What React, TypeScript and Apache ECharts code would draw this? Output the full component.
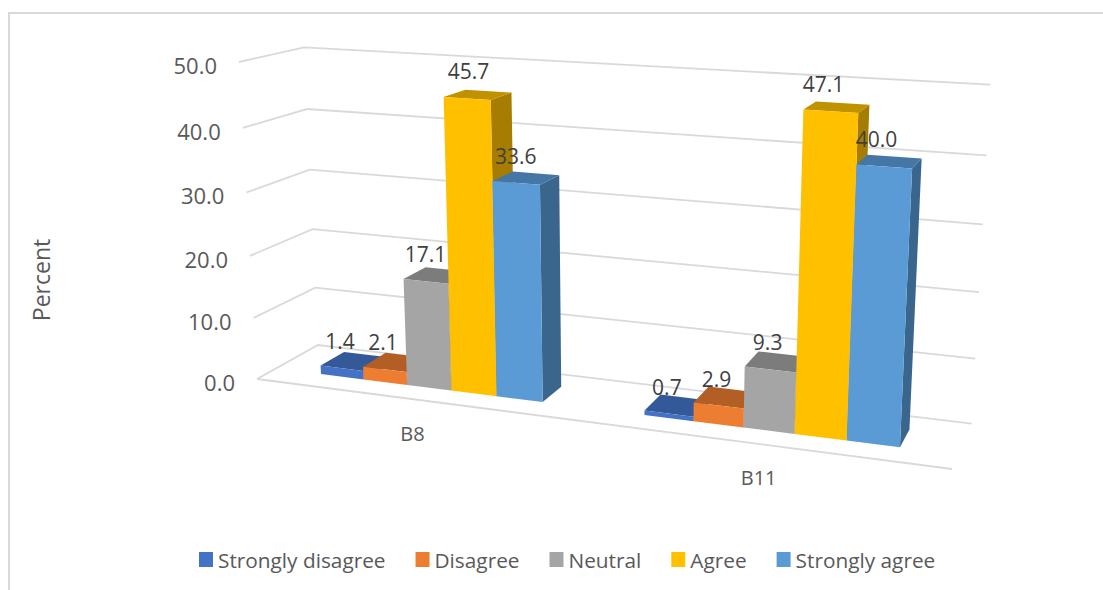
import React, { useEffect, useRef } from "react";
import * as echarts from "echarts";

const categories = ["B8", "B11"];
const stronglyDisagree = [1.4, 0.7];
const disagree = [2.1, 2.9];
const neutral = [17.1, 9.3];
const agree = [45.7, 47.1];
const stronglyAgree = [33.6, 40.0];
const yTicks = [0, 10, 20, 30, 40, 50];

const seriesNames = ["Strongly disagree", "Disagree", "Neutral", "Agree", "Strongly agree"];
const seriesValues = [stronglyDisagree, disagree, neutral, agree, stronglyAgree];
const frontColors = ["#4472C4", "#ED7D31", "#A5A5A5", "#FFC000", "#5B9BD5"];
const topColors = ["#345999", "#B25E24", "#7C7C7C", "#C19200", "#4477A5"];
const sideColors = ["#2B4A80", "#94501E", "#686868", "#A67D00", "#3A658C"];

const FONT = '"Open Sans"';
const GRID_COLOR = "#D9D9D9";

// Perspective box: u runs along the categories, v up the value axis, w into the depth.
const P000 = [257, 379];
const P100 = [952, 469];
const P010 = [239, 62];
const P001 = [318, 345];
const WU = -0.135;
const WV = -0.047;
const WW = 0.0672;

function project(u: number, v: number, w: number): number[] {
  const h = 1 + WU * u + WV * v + WW * w;
  return [0, 1].map(
    (i) =>
      (P000[i] +
        u * ((1 + WU) * P100[i] - P000[i]) +
        v * ((1 + WV) * P010[i] - P000[i]) +
        w * ((1 + WW) * P001[i] - P000[i])) /
      h
  );
}

// Bar footprint in the box's depth and its share of one category band.
const DEPTH_FRONT = 0.3;
const DEPTH_BACK = 0.7;
const CLUSTER_SHARE = 0.7;

function toBox(api: any, params: any, cat: number, value: number) {
  const cs = params.coordSys;
  const p = api.coord([cat, value]);
  return {
    u: (p[0] - cs.x) / cs.width,
    v: (cs.y + cs.height - p[1]) / cs.height,
    band: api.size([1, 0])[0] / cs.width,
  };
}

function barItem(seriesIndex: number) {
  return (params: any, api: any) => {
    const { u, v, band } = toBox(api, params, api.value(0), api.value(1));
    const barW = (band * CLUSTER_SHARE) / seriesNames.length;
    const u0 = u - (band * CLUSTER_SHARE) / 2 + seriesIndex * barW;
    const u1 = u0 + barW;
    const w0 = DEPTH_FRONT;
    const w1 = DEPTH_BACK;
    const face = (pts: number[][], fill: string) => ({
      type: "polygon",
      shape: { points: pts.map((p) => project(p[0], p[1], p[2])) },
      style: { fill },
    });
    return {
      type: "group",
      children: [
        face([[u1, 0, w0], [u1, 0, w1], [u1, v, w1], [u1, v, w0]], sideColors[seriesIndex]),
        face([[u0, v, w0], [u1, v, w0], [u1, v, w1], [u0, v, w1]], topColors[seriesIndex]),
        face([[u0, 0, w0], [u1, 0, w0], [u1, v, w0], [u0, v, w0]], frontColors[seriesIndex]),
      ],
    };
  };
}

function wallItem(params: any, api: any) {
  const { v } = toBox(api, params, 0, api.value(1));
  const points = [project(0, v, 0), project(0, v, 1), project(1, v, 1)];
  const children: any[] = [
    {
      type: "polyline",
      shape: { points },
      style: { stroke: GRID_COLOR, fill: null, lineWidth: 1.8 },
    },
    {
      type: "text",
      style: {
        text: api.value(1).toFixed(1),
        x: points[0][0] - 22,
        y: points[0][1] + 3,
        align: "right",
        verticalAlign: "middle",
        font: `22px ${FONT}`,
        fill: "#595959",
      },
    },
  ];
  if (api.value(1) === 0) {
    children.push({
      type: "line",
      shape: {
        x1: points[0][0],
        y1: points[0][1],
        x2: project(1, 0, 0)[0],
        y2: project(1, 0, 0)[1],
      },
      style: { stroke: GRID_COLOR, lineWidth: 1.8 },
    });
  }
  return { type: "group", children };
}

function categoryLabelItem(params: any, api: any) {
  const { u } = toBox(api, params, api.value(0), 0);
  const p = project(u, 0, 0);
  return {
    type: "text",
    style: {
      text: categories[api.value(0)],
      x: p[0],
      y: p[1] + 34,
      align: "center",
      verticalAlign: "middle",
      font: `20px ${FONT}`,
      fill: "#595959",
    },
  };
}

// Value labels sit above the bar's top edge, horizontally at its mid-height centre.
function valueLabelItem(params: any, api: any) {
  const s = api.value(2);
  const value = api.value(1);
  const { u, v, band } = toBox(api, params, api.value(0), value);
  const barW = (band * CLUSTER_SHARE) / seriesNames.length;
  const uc = u - (band * CLUSTER_SHARE) / 2 + (s + 0.5) * barW;
  return {
    type: "text",
    style: {
      text: value.toFixed(1),
      x: project(uc, v / 2, DEPTH_FRONT)[0] - 2,
      y: project(uc, v, DEPTH_FRONT)[1] - 27,
      align: "center",
      verticalAlign: "middle",
      font: `21px ${FONT}`,
      fill: "#404040",
    },
  };
}

const labelRows = seriesValues.flatMap((vals, s) => vals.map((val, c) => [c, val, s]));

export default function App() {
  const ref = useRef<HTMLDivElement>(null);

  useEffect(() => {
    const chart = echarts.init(ref.current!, undefined, { renderer: "svg" });
    chart.setOption({
      animation: false,
      backgroundColor: "#FFFFFF",
      grid: { left: 257, top: 62, width: 695, height: 317, show: false },
      xAxis: { type: "category", data: categories, show: false },
      yAxis: { type: "value", min: 0, max: 50, interval: 10, show: false },
      legend: {
        left: 194,
        top: 544,
        itemGap: 30,
        itemWidth: 14,
        itemHeight: 15,
        icon: "rect",
        data: seriesNames,
        textStyle: { fontFamily: FONT, fontSize: 20.8, color: "#595959" },
      },
      graphic: [
        {
          type: "line",
          shape: { x1: 9, y1: 13, x2: 9, y2: 590 },
          style: { stroke: GRID_COLOR, lineWidth: 2 },
        },
        {
          type: "line",
          shape: { x1: 8, y1: 13, x2: 1103, y2: 13 },
          style: { stroke: GRID_COLOR, lineWidth: 2 },
        },
        {
          type: "text",
          x: 41,
          y: 280,
          rotation: Math.PI / 2,
          style: {
            text: "Percent",
            align: "center",
            verticalAlign: "middle",
            font: `23px ${FONT}`,
            fill: "#595959",
          },
        },
      ],
      series: [
        {
          name: "walls",
          type: "custom",
          z: 1,
          silent: true,
          renderItem: wallItem,
          data: yTicks.map((t) => [0, t]),
          encode: { x: 0, y: 1 },
        },
        {
          name: "categories",
          type: "custom",
          z: 1,
          silent: true,
          renderItem: categoryLabelItem,
          data: categories.map((_, i) => [i, 0]),
          encode: { x: 0, y: 1 },
        },
        ...seriesNames.map((name, s) => ({
          name,
          type: "custom",
          z: 2,
          itemStyle: { color: frontColors[s] },
          renderItem: barItem(s),
          data: seriesValues[s].map((val, c) => [c, val]),
          encode: { x: 0, y: 1 },
        })),
        {
          name: "values",
          type: "custom",
          z: 3,
          silent: true,
          renderItem: valueLabelItem,
          data: labelRows,
          encode: { x: 0, y: 1 },
        },
      ],
    });
    return () => chart.dispose();
  }, []);

  return (
    <div
      ref={ref}
      style={{ position: "fixed", left: 0, top: 0, width: 1103, height: 590 }}
    />
  );
}
